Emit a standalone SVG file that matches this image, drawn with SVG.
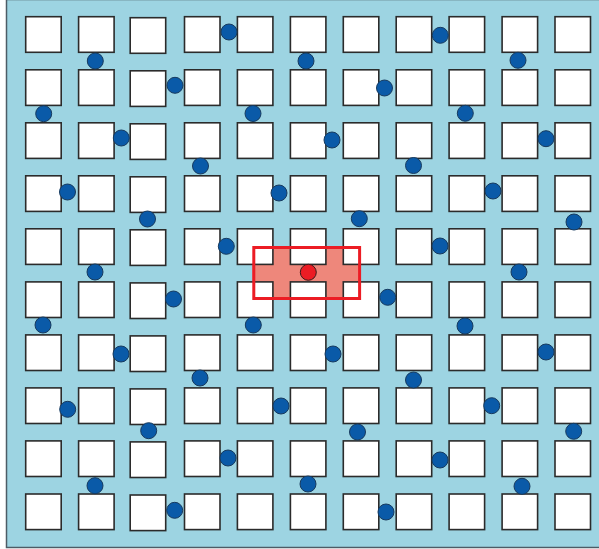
<svg xmlns="http://www.w3.org/2000/svg" width="599" height="549" viewBox="0 0 599 549">
<style>
.bg{fill:#9dd4e2;stroke:#4d5c66;stroke-width:1.5}
.sq{fill:#ffffff;stroke:#2b2b2b;stroke-width:1.6}
.dot{fill:#0a5aa8;stroke:#173a5e;stroke-width:1}
.hl{fill:#ee877b;stroke:none}
.hlb{fill:none;stroke:#ec1c24;stroke-width:3}
.rd{fill:#ec1c24;stroke:#3a1a1a;stroke-width:1}
</style>
<defs>
<rect id="s" class="sq" width="35.5" height="35.6"/>
<circle id="c" class="dot" r="8"/>
</defs>
<rect class="bg" x="6.5" y="-0.5" width="600" height="548"/>
<g id="highlight-fill"><rect class="hl" x="252.5" y="246" width="108.5" height="54"/></g>
<g id="squares">
<g id="row0"><use href="#s" x="25.7" y="16.7"/><use href="#s" x="78.6" y="16.7"/><use href="#s" x="130.2" y="17.7"/><use href="#s" x="184.5" y="16.7"/><use href="#s" x="237.4" y="16.7"/><use href="#s" x="290.4" y="16.7"/><use href="#s" x="343.3" y="16.7"/><use href="#s" x="396.2" y="16.7"/><use href="#s" x="449.1" y="16.7"/><use href="#s" x="502.1" y="16.7"/><use href="#s" x="555" y="16.7"/></g>
<g id="row1"><use href="#s" x="25.7" y="69.8"/><use href="#s" x="78.6" y="69.8"/><use href="#s" x="130.2" y="70.8"/><use href="#s" x="184.5" y="69.8"/><use href="#s" x="237.4" y="69.8"/><use href="#s" x="290.4" y="69.8"/><use href="#s" x="343.3" y="69.8"/><use href="#s" x="396.2" y="69.8"/><use href="#s" x="449.1" y="69.8"/><use href="#s" x="502.1" y="69.8"/><use href="#s" x="555" y="69.8"/></g>
<g id="row2"><use href="#s" x="25.7" y="122.8"/><use href="#s" x="78.6" y="122.8"/><use href="#s" x="130.2" y="123.8"/><use href="#s" x="184.5" y="122.8"/><use href="#s" x="237.4" y="122.8"/><use href="#s" x="290.4" y="122.8"/><use href="#s" x="343.3" y="122.8"/><use href="#s" x="396.2" y="122.8"/><use href="#s" x="449.1" y="122.8"/><use href="#s" x="502.1" y="122.8"/><use href="#s" x="555" y="122.8"/></g>
<g id="row3"><use href="#s" x="25.7" y="175.8"/><use href="#s" x="78.6" y="175.8"/><use href="#s" x="130.2" y="176.8"/><use href="#s" x="184.5" y="175.8"/><use href="#s" x="237.4" y="175.8"/><use href="#s" x="290.4" y="175.8"/><use href="#s" x="343.3" y="175.8"/><use href="#s" x="396.2" y="175.8"/><use href="#s" x="449.1" y="175.8"/><use href="#s" x="502.1" y="175.8"/><use href="#s" x="555" y="175.8"/></g>
<g id="row4"><use href="#s" x="25.7" y="228.8"/><use href="#s" x="78.6" y="228.8"/><use href="#s" x="130.2" y="229.8"/><use href="#s" x="184.5" y="228.8"/><use href="#s" x="237.4" y="228.8"/><use href="#s" x="290.4" y="228.8"/><use href="#s" x="343.3" y="228.8"/><use href="#s" x="396.2" y="228.8"/><use href="#s" x="449.1" y="228.8"/><use href="#s" x="502.1" y="228.8"/><use href="#s" x="555" y="228.8"/></g>
<g id="row5"><use href="#s" x="25.7" y="281.9"/><use href="#s" x="78.6" y="281.9"/><use href="#s" x="130.2" y="282.9"/><use href="#s" x="184.5" y="281.9"/><use href="#s" x="237.4" y="281.9"/><use href="#s" x="290.4" y="281.9"/><use href="#s" x="343.3" y="281.9"/><use href="#s" x="396.2" y="281.9"/><use href="#s" x="449.1" y="281.9"/><use href="#s" x="502.1" y="281.9"/><use href="#s" x="555" y="281.9"/></g>
<g id="row6"><use href="#s" x="25.7" y="334.9"/><use href="#s" x="78.6" y="334.9"/><use href="#s" x="130.2" y="335.9"/><use href="#s" x="184.5" y="334.9"/><use href="#s" x="237.4" y="334.9"/><use href="#s" x="290.4" y="334.9"/><use href="#s" x="343.3" y="334.9"/><use href="#s" x="396.2" y="334.9"/><use href="#s" x="449.1" y="334.9"/><use href="#s" x="502.1" y="334.9"/><use href="#s" x="555" y="334.9"/></g>
<g id="row7"><use href="#s" x="25.7" y="387.9"/><use href="#s" x="78.6" y="387.9"/><use href="#s" x="130.2" y="388.9"/><use href="#s" x="184.5" y="387.9"/><use href="#s" x="237.4" y="387.9"/><use href="#s" x="290.4" y="387.9"/><use href="#s" x="343.3" y="387.9"/><use href="#s" x="396.2" y="387.9"/><use href="#s" x="449.1" y="387.9"/><use href="#s" x="502.1" y="387.9"/><use href="#s" x="555" y="387.9"/></g>
<g id="row8"><use href="#s" x="25.7" y="440.9"/><use href="#s" x="78.6" y="440.9"/><use href="#s" x="130.2" y="441.9"/><use href="#s" x="184.5" y="440.9"/><use href="#s" x="237.4" y="440.9"/><use href="#s" x="290.4" y="440.9"/><use href="#s" x="343.3" y="440.9"/><use href="#s" x="396.2" y="440.9"/><use href="#s" x="449.1" y="440.9"/><use href="#s" x="502.1" y="440.9"/><use href="#s" x="555" y="440.9"/></g>
<g id="row9"><use href="#s" x="25.7" y="494"/><use href="#s" x="78.6" y="494"/><use href="#s" x="130.2" y="495"/><use href="#s" x="184.5" y="494"/><use href="#s" x="237.4" y="494"/><use href="#s" x="290.4" y="494"/><use href="#s" x="343.3" y="494"/><use href="#s" x="396.2" y="494"/><use href="#s" x="449.1" y="494"/><use href="#s" x="502.1" y="494"/><use href="#s" x="555" y="494"/></g>
</g>
<g id="dots">
<use href="#c" x="229" y="32"/><use href="#c" x="440.3" y="35.3"/>
<use href="#c" x="95.3" y="61"/><use href="#c" x="306" y="61"/><use href="#c" x="518" y="60.3"/>
<use href="#c" x="175" y="85.3"/><use href="#c" x="384.5" y="88"/>
<use href="#c" x="43.7" y="113.7"/><use href="#c" x="253" y="113.5"/><use href="#c" x="465.3" y="113.3"/>
<use href="#c" x="121.3" y="138"/><use href="#c" x="332" y="140"/><use href="#c" x="546" y="138.7"/>
<use href="#c" x="200.5" y="166"/><use href="#c" x="413.5" y="165.5"/>
<use href="#c" x="67.5" y="192"/><use href="#c" x="279" y="193"/><use href="#c" x="493" y="191"/>
<use href="#c" x="147.5" y="219"/><use href="#c" x="359.3" y="218.7"/><use href="#c" x="574" y="222"/>
<use href="#c" x="226.3" y="246.3"/><use href="#c" x="440" y="246"/>
<use href="#c" x="95" y="272"/><use href="#c" x="519" y="272"/>
<use href="#c" x="173.5" y="299"/><use href="#c" x="387.7" y="297.3"/>
<use href="#c" x="43" y="325"/><use href="#c" x="253.3" y="325"/><use href="#c" x="465" y="326"/>
<use href="#c" x="121" y="354"/><use href="#c" x="333" y="354"/><use href="#c" x="546" y="352"/>
<use href="#c" x="200" y="378"/><use href="#c" x="413.5" y="380"/>
<use href="#c" x="67.7" y="409.3"/><use href="#c" x="281" y="406"/><use href="#c" x="491.7" y="405.7"/>
<use href="#c" x="148.7" y="430.7"/><use href="#c" x="357.5" y="432"/><use href="#c" x="573.7" y="431.3"/>
<use href="#c" x="228" y="458"/><use href="#c" x="440" y="460"/>
<use href="#c" x="95" y="485.7"/><use href="#c" x="308" y="484"/><use href="#c" x="522" y="486.3"/>
<use href="#c" x="174.7" y="510.3"/><use href="#c" x="386" y="512"/>
</g>
<g id="highlight">
<rect class="hlb" x="253.8" y="247.5" width="105.8" height="51"/>
<circle class="rd" cx="308.3" cy="272.3" r="8"/>
</g>
</svg>
